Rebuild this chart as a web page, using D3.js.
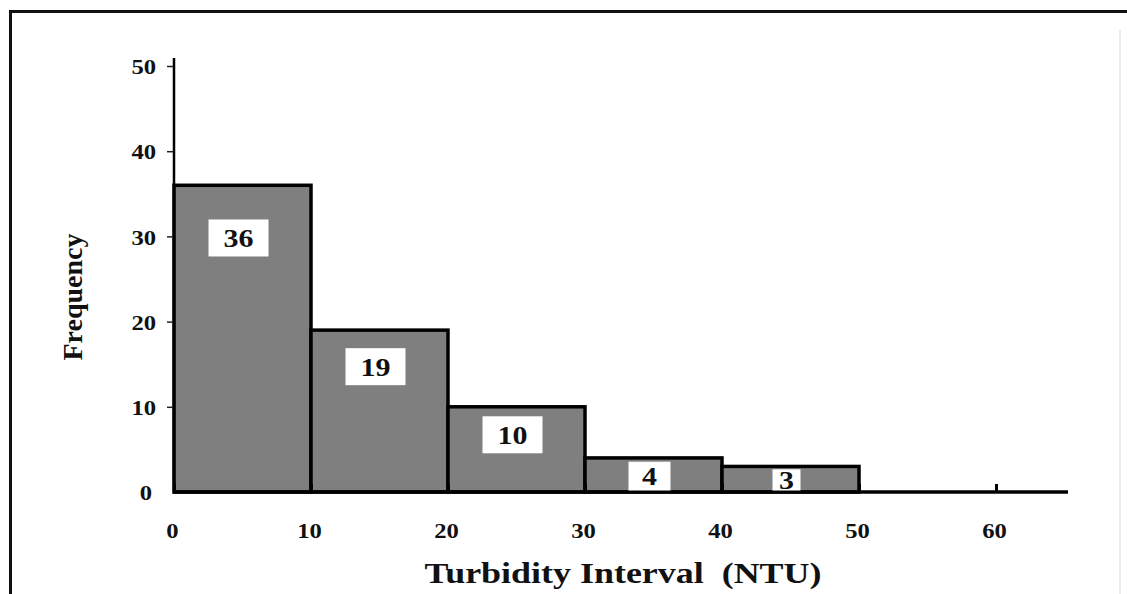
<!DOCTYPE html>
<html>
<head>
<meta charset="utf-8">
<script src="https://cdn.jsdelivr.net/npm/d3@7"></script>
<style>
  html, body { margin: 0; padding: 0; background: #fff; }
  svg { display: block; }
  text { font-family: "Liberation Serif", "DejaVu Serif", serif; font-weight: bold; fill: #111; }
</style>
</head>
<body>
<svg id="chart" width="1127" height="594"></svg>
<script>
// ---- data ----
const binStarts = [0, 10, 20, 30, 40];
const binEnds = [10, 20, 30, 40, 50];
const frequencies = [36, 19, 10, 4, 3];
const xTicks = [0, 10, 20, 30, 40, 50, 60];
const yTicks = [0, 10, 20, 30, 40, 50];
const xTitle = "Turbidity Interval  (NTU)";
const yTitle = "Frequency";

// ---- layout ----
const svg = d3.select("#chart");
const x0 = 174, x60 = 996, yBase = 492, y50 = 66;
const x = d3.scaleLinear().domain([0, 60]).range([x0, x60]);
const y = d3.scaleLinear().domain([0, 50]).range([yBase, y50]);
const xMax = x.invert(1068);
const yTop = y.invert(58);

function stretch(sel, f) {
  sel.each(function () {
    const len = this.getComputedTextLength();
    d3.select(this).attr("textLength", len * f).attr("lengthAdjust", "spacingAndGlyphs");
  });
}

// frame
svg.append("path")
  .attr("d", "M10.5,600 V11.5 H1130")
  .attr("fill", "none").attr("stroke", "#111").attr("stroke-width", 3);
svg.append("line")
  .attr("x1", 1120).attr("x2", 1120).attr("y1", 30).attr("y2", 594)
  .attr("stroke", "#e6e6e6").attr("stroke-width", 1.5);

// bars
const bins = binStarts.map((s, i) => ({ s, e: binEnds[i], v: frequencies[i] }));
svg.append("g").selectAll("rect").data(bins).join("rect")
  .attr("x", d => x(d.s))
  .attr("y", d => y(d.v))
  .attr("width", d => x(d.e) - x(d.s))
  .attr("height", d => y(0) - y(d.v))
  .attr("fill", "#7f7f7f")
  .attr("stroke", "#000")
  .attr("stroke-width", 3.5);

// y axis
const yAxis = d3.axisLeft(y).tickValues(yTicks).tickSize(7).tickPadding(10).tickFormat(d3.format("d"));
const gy = svg.append("g").attr("transform", `translate(${x0},0)`).call(yAxis);
gy.select(".domain").remove();
gy.selectAll(".tick line").attr("stroke", "#222").attr("stroke-width", 1.5)
  .attr("display", d => d === 0 ? "none" : null);
gy.selectAll(".tick text").attr("font-size", 22).attr("font-family", null).attr("fill", "#111")
  .attr("dy", "0.35em").attr("x", d => d === 0 ? -22 : -18);
stretch(gy.selectAll(".tick text"), 1.12);
svg.append("line")
  .attr("x1", x0).attr("x2", x0).attr("y1", y(yTop)).attr("y2", yBase)
  .attr("stroke", "#000").attr("stroke-width", 2.5);

// x axis
const xAxis = d3.axisBottom(x).tickValues(xTicks).tickSize(-8).tickPadding(0).tickFormat(d3.format("d"));
const gx = svg.append("g").attr("transform", `translate(0,${yBase})`).call(xAxis);
gx.select(".domain").remove();
gx.selectAll(".tick line").attr("stroke", "#000").attr("stroke-width", 3);
gx.selectAll(".tick text").attr("font-size", 22).attr("font-family", null).attr("fill", "#111")
  .attr("y", 46).attr("dy", 0).attr("x", -2);
stretch(gx.selectAll(".tick text"), 1.12);
svg.append("line")
  .attr("x1", x(0) - 1).attr("x2", x(xMax)).attr("y1", yBase).attr("y2", yBase)
  .attr("stroke", "#000").attr("stroke-width", 3.5);

// value boxes
const boxH = 37;
const lg = svg.append("g").selectAll("g").data(bins).join("g");
lg.each(function (d) {
  const g = d3.select(this);
  const cx = (x(d.s) + x(d.e)) / 2;
  const top = y(d.v) + d.v * 0.95;
  const bottom = Math.min(top + boxH, yBase - 1.5);
  const t = g.append("text")
    .attr("x", cx - 4).attr("y", (top + bottom) / 2)
    .attr("dy", "0.36em")
    .attr("text-anchor", "middle").attr("font-size", 25)
    .text(d.v);
  stretch(t, 1.2);
  const w = t.node().getComputedTextLength() * 1.2;
  const pad = d.v >= 4 ? 12 : 5;
  g.insert("rect", "text")
    .attr("x", cx - 4 - w / 2 - pad).attr("y", top)
    .attr("width", w + 2 * pad).attr("height", bottom - top)
    .attr("fill", "#fff");
});

// titles
svg.append("text")
  .attr("x", 623).attr("y", 583).attr("text-anchor", "middle")
  .attr("font-size", 29).attr("textLength", 397).attr("lengthAdjust", "spacingAndGlyphs")
  .style("white-space", "pre")
  .text(xTitle);
svg.append("text")
  .attr("transform", "translate(82,297) rotate(-90)")
  .attr("text-anchor", "middle").attr("font-size", 28)
  .attr("textLength", 127).attr("lengthAdjust", "spacingAndGlyphs")
  .text(yTitle);
</script>
</body>
</html>
